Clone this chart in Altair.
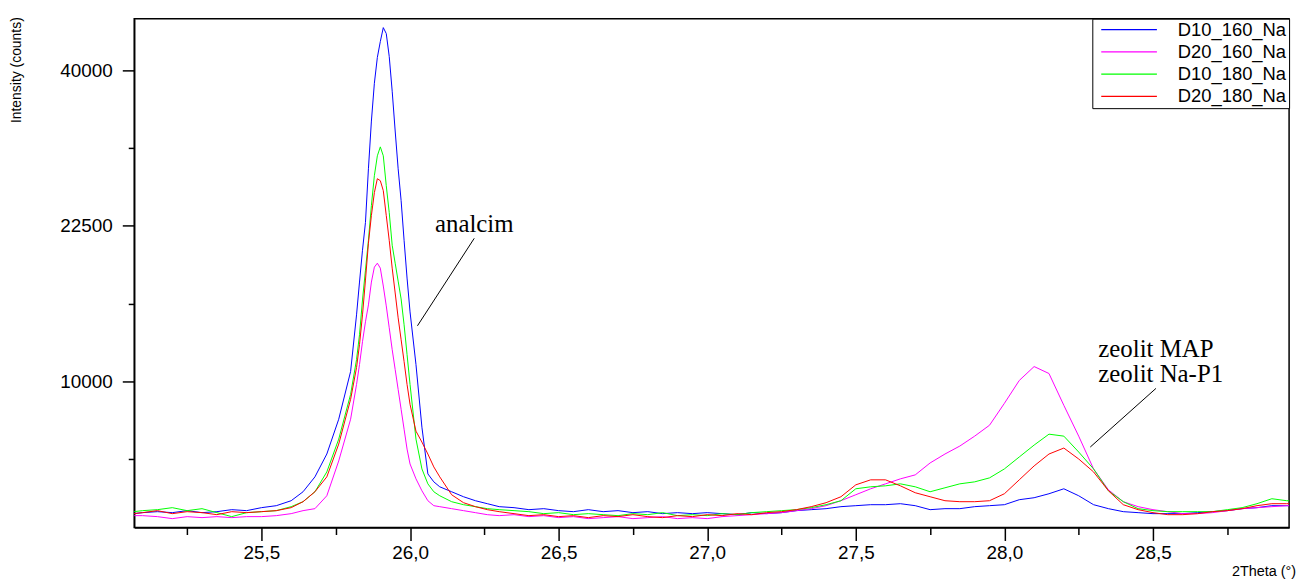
import altair as alt
import pandas as pd

# ---------------- data ----------------
two_theta = [25.07, 25.10, 25.15, 25.20, 25.25, 25.30, 25.35, 25.40, 25.45, 25.50,
             25.55, 25.60, 25.64, 25.68, 25.72, 25.76, 25.80,
             25.82, 25.83, 25.84, 25.85, 25.86, 25.87, 25.88, 25.89, 25.90, 25.91,
             25.92, 25.93, 25.94, 25.95, 25.96, 25.97, 25.98, 25.99, 26.00,
             26.02, 26.04, 26.06, 26.08, 26.10,
             26.14, 26.18, 26.22, 26.26, 26.30,
             26.35, 26.40, 26.45, 26.50, 26.55, 26.60, 26.65, 26.70, 26.75, 26.80,
             26.85, 26.90, 26.95, 27.00, 27.05, 27.10, 27.15, 27.20, 27.25, 27.30,
             27.35, 27.40, 27.45, 27.50, 27.55, 27.60, 27.65, 27.70, 27.75, 27.80,
             27.85, 27.90, 27.95, 28.00, 28.05, 28.10, 28.15, 28.20, 28.25, 28.30,
             28.35, 28.40, 28.45, 28.50, 28.55, 28.60, 28.65, 28.70, 28.75, 28.80,
             28.85, 28.90, 28.95, 28.96]

d10_160_na = [3281, 3318, 3355, 3318, 3393, 3318, 3355, 3430, 3393, 3506,
              3582, 3776, 4139, 4779, 5851, 7691, 10624,
              14720, 17396, 20204, 22833, 28357, 33768, 38390, 41725, 43840, 45740,
              44923, 41855, 37392, 32602, 28357, 25011, 21124, 17736, 14955,
              11090, 7248, 4913, 4560, 4347,
              4139, 3935, 3776, 3659, 3544,
              3506, 3430, 3468, 3393, 3355, 3430, 3355, 3393, 3318, 3355,
              3281, 3318, 3281, 3318, 3281, 3244, 3318, 3281, 3318, 3393,
              3430, 3468, 3544, 3582, 3620, 3620, 3659, 3582, 3430, 3468,
              3468, 3544, 3582, 3620, 3816, 3895, 4057, 4263, 3975, 3620,
              3468, 3355, 3318, 3281, 3281, 3281, 3318, 3355, 3393, 3468,
              3506, 3582, 3582, 3582]

d20_160_na = [3208, 3208, 3172, 3100, 3172, 3136, 3172, 3136, 3172, 3172,
              3208, 3281, 3393, 3468, 3975, 5514, 7691,
              9783, 11090, 12698, 14182, 15510, 17396, 18687, 19038, 18599, 17061,
              15430, 13728, 12126, 10756, 9467, 8263, 7139, 6098, 5371,
              4691, 4180, 3776, 3582, 3544,
              3468, 3393, 3318, 3244, 3208,
              3244, 3172, 3208, 3136, 3172, 3100, 3136, 3172, 3100, 3136,
              3172, 3100, 3136, 3100, 3172, 3208, 3244, 3281, 3318, 3393,
              3468, 3582, 3776, 4016, 4263, 4474, 4691, 4868, 5419, 5851,
              6250, 6766, 7357, 8616, 10037, 10956, 10492, 8497, 6766, 5140,
              4221, 3737, 3544, 3430, 3355, 3281, 3281, 3318, 3393, 3468,
              3506, 3544, 3582, 3582]

d10_180_na = [3355, 3393, 3430, 3506, 3393, 3468, 3318, 3172, 3318, 3355,
              3393, 3544, 3737, 4139, 5003, 6608, 9159,
              11430, 13209, 15909, 18423, 21124, 24508, 27609, 29780, 30782, 29780,
              26556, 23810, 20664, 19038, 17478, 15989, 13955, 11778, 9783,
              6608, 5140, 4474, 4139, 3975,
              3737, 3620, 3544, 3468, 3430,
              3393, 3355, 3281, 3318, 3244, 3281, 3244, 3208, 3281, 3244,
              3318, 3208, 3244, 3208, 3281, 3244, 3318, 3355, 3393, 3430,
              3506, 3620, 3776, 4263, 4347, 4389, 4474, 4347, 4139, 4305,
              4474, 4560, 4735, 5140, 5706, 6300, 6871, 6766, 5950, 5140,
              4180, 3737, 3468, 3393, 3355, 3355, 3355, 3355, 3430, 3506,
              3659, 3855, 3776, 3776]

d20_180_na = [3281, 3318, 3393, 3281, 3355, 3318, 3244, 3355, 3318, 3355,
              3393, 3506, 3737, 4139, 4779, 6351, 8855,
              10888, 12483, 14720, 17564, 20848, 23515, 25829, 27290, 27077, 26034,
              23515, 21124, 18599, 16481, 14488, 12841, 11294, 9783, 8556,
              7032, 6454, 5851, 5233, 4779,
              4016, 3698, 3544, 3430, 3355,
              3281, 3208, 3244, 3172, 3208, 3136, 3208, 3172, 3244, 3172,
              3136, 3208, 3172, 3244, 3208, 3281, 3244, 3318, 3355, 3430,
              3544, 3698, 3935, 4431, 4648, 4648, 4389, 4098, 3935, 3776,
              3737, 3737, 3776, 4057, 4648, 5279, 5851, 6149, 5609, 5003,
              4180, 3620, 3430, 3318, 3244, 3244, 3281, 3355, 3393, 3468,
              3582, 3659, 3659, 3659]

series_names = ["D10_160_Na", "D20_160_Na", "D10_180_Na", "D20_180_Na"]
series_colors = ["#0000FF", "#FF00FF", "#00FF00", "#FF0000"]

x_tick_values = [25.25, 25.50, 25.75, 26.00, 26.25, 26.50, 26.75, 27.00,
                 27.25, 27.50, 27.75, 28.00, 28.25, 28.50, 28.75]
y_tick_values = [5625, 10000, 15625, 22500, 30625, 40000]

ann_labels = ["analcim", "zeolit MAP", "zeolit Na-P1"]
ann_theta = [26.084, 28.316, 28.316]
ann_counts = [21875, 11638, 9930]

lead_theta = [26.216, 28.510]
lead_counts = [21310, 9532]
lead_theta_end = [26.025, 28.289]
lead_counts_end = [13877, 6200]

# ---------------- tables ----------------
all_series = [d10_160_na, d20_160_na, d10_180_na, d20_180_na]
rows = []
for name, vals in zip(series_names, all_series):
    assert len(vals) == len(two_theta)
    for t, v in zip(two_theta, vals):
        rows.append({"theta": t, "counts": v, "series": name})
df = pd.DataFrame(rows)

ann_df = pd.DataFrame({"theta": ann_theta, "counts": ann_counts, "label": ann_labels})
lead_df = pd.DataFrame({"theta": lead_theta, "counts": lead_counts,
                        "theta_end": lead_theta_end, "counts_end": lead_counts_end})

FONT = "Liberation Sans"
x_scale = alt.Scale(domain=[25.0719, 28.958], nice=False, zero=False)
y_scale = alt.Scale(type="sqrt", domain=[2788, 46977], nice=False, zero=False)

x_major = "round(datum.value*4) % 2 == 0"
y_major = "datum.value == 10000 || datum.value == 22500 || datum.value == 40000"

x_axis = alt.Axis(
    values=x_tick_values,
    labelExpr=f"{x_major} ? replace(format(datum.value, '.1f'), '.', ',') : ''",
    tickSize={"condition": {"test": x_major, "value": 13}, "value": 7},
    labelFontSize=19, labelPadding=3, labelFlush=False, labelOverlap=False,
    title="2Theta (°)", titleX=1104, titleY=48, titleAlign="left",
    titleBaseline="alphabetic", titleAngle=0, titleFontSize=14.5,
)
y_axis = alt.Axis(
    values=y_tick_values,
    labelExpr=f"{y_major} ? format(datum.value, 'd') : ''",
    tickSize={"condition": {"test": y_major, "value": 12}, "value": 6},
    labelFontSize=19, labelPadding=10, labelOverlap=False,
    title="Intensity (counts)", titleX=-118, titleY=-2, titleAlign="right",
    titleBaseline="middle", titleAngle=270, titleFontSize=14,
)

lines = alt.Chart(df).mark_line(strokeWidth=1, clip=True).encode(
    x=alt.X("theta:Q", scale=x_scale, axis=x_axis),
    y=alt.Y("counts:Q", scale=y_scale, axis=y_axis),
    color=alt.Color(
        "series:N",
        scale=alt.Scale(domain=series_names, range=series_colors),
        legend=alt.Legend(
            title=None, orient="top-right", offset=0, padding=2,
            strokeColor="black", fillColor="white",
            symbolType="stroke", symbolSize=3136, symbolStrokeWidth=1.2,
            symbolOffset=6, labelFont=FONT, labelFontSize=18.5, labelColor="black",
            labelOffset=20, clipHeight=18, rowPadding=3.4, labelLimit=300,
        ),
    ),
)

texts = alt.Chart(ann_df).mark_text(
    align="left", baseline="alphabetic", font="Liberation Serif",
    fontSize=25, color="black",
).encode(
    x=alt.X("theta:Q", scale=x_scale),
    y=alt.Y("counts:Q", scale=y_scale),
    text="label:N",
)

leaders = alt.Chart(lead_df).mark_rule(color="black", strokeWidth=1).encode(
    x=alt.X("theta:Q", scale=x_scale),
    y=alt.Y("counts:Q", scale=y_scale),
    x2="theta_end:Q",
    y2="counts_end:Q",
)

chart = alt.layer(lines, leaders, texts).properties(
    width=1162, height=512,
    autosize=alt.AutoSizeParams(type="none"),
    padding={"left": 127, "top": 9, "right": 15, "bottom": 50},
    background="white",
).configure_view(
    stroke="black", strokeWidth=1.5,
).configure_axis(
    grid=False, domainColor="black", domainWidth=1.5,
    tickColor="black", tickWidth=1.5,
    labelFont=FONT, labelColor="black",
    titleFont=FONT, titleColor="black", titleFontWeight="normal",
)

chart.save("out.html", embed_options={"renderer": "svg", "actions": False})
